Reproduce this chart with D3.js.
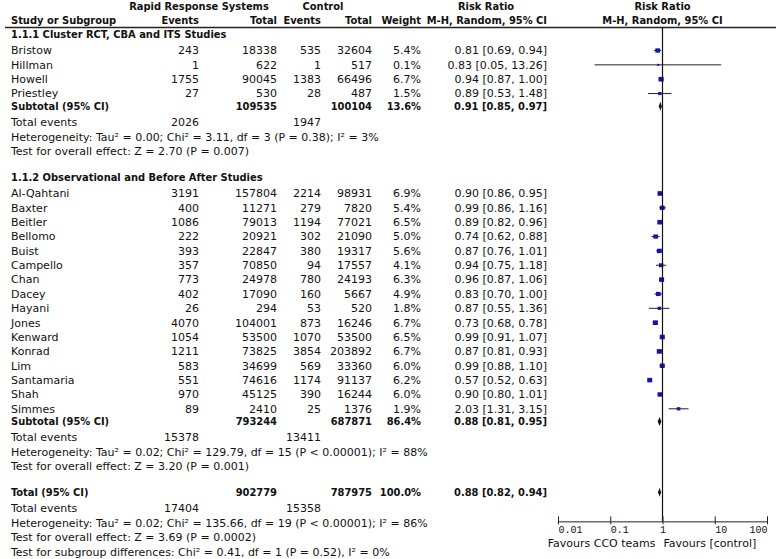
<!DOCTYPE html>
<html>
<head>
<meta charset="utf-8">
<script src="https://cdn.jsdelivr.net/npm/d3@7"></script>
<style>
  body { margin: 0; background: #fff; }
  svg text { font-family: "DejaVu Sans", sans-serif; font-size: 11px; fill: #111; }
  .b text, text.b { font-family: "DejaVu Sans Condensed", "DejaVu Sans", sans-serif; font-stretch: condensed; font-weight: bold; }
  .tick text { font-family: "Liberation Mono", monospace; font-size: 10px; }
</style>
</head>
<body>
<svg id="forest" width="778" height="559"></svg>
<script>
// ---- data ----
var studies1 = ["Bristow", "Hillman", "Howell", "Priestley"];
var rrsEvents1 = [243, 1, 1755, 27];
var rrsTotal1 = [18338, 622, 90045, 530];
var ctlEvents1 = [535, 1, 1383, 28];
var ctlTotal1 = [32604, 517, 66496, 487];
var weight1 = [5.4, 0.1, 6.7, 1.5];
var rr1 = [0.81, 0.83, 0.94, 0.89];
var lo1 = [0.69, 0.05, 0.87, 0.53];
var hi1 = [0.94, 13.26, 1.00, 1.48];

var studies2 = ["Al-Qahtani", "Baxter", "Beitler", "Bellomo", "Buist", "Campello", "Chan", "Dacey",
                "Hayani", "Jones", "Kenward", "Konrad", "Lim", "Santamaria", "Shah", "Simmes"];
var rrsEvents2 = [3191, 400, 1086, 222, 393, 357, 773, 402, 26, 4070, 1054, 1211, 583, 551, 970, 89];
var rrsTotal2 = [157804, 11271, 79013, 20921, 22847, 70850, 24978, 17090, 294, 104001, 53500, 73825, 34699, 74616, 45125, 2410];
var ctlEvents2 = [2214, 279, 1194, 302, 380, 94, 780, 160, 53, 873, 1070, 3854, 569, 1174, 390, 25];
var ctlTotal2 = [98931, 7820, 77021, 21090, 19317, 17557, 24193, 5667, 520, 16246, 53500, 203892, 33360, 91137, 16244, 1376];
var weight2 = [6.9, 5.4, 6.5, 5.0, 5.6, 4.1, 6.3, 4.9, 1.8, 6.7, 6.5, 6.7, 6.0, 6.2, 6.0, 1.9];
var rr2 = [0.90, 0.99, 0.89, 0.74, 0.87, 0.94, 0.96, 0.83, 0.87, 0.73, 0.99, 0.87, 0.99, 0.57, 0.90, 2.03];
var lo2 = [0.86, 0.86, 0.82, 0.62, 0.76, 0.75, 0.87, 0.70, 0.55, 0.68, 0.91, 0.81, 0.88, 0.52, 0.80, 1.31];
var hi2 = [0.95, 1.16, 0.96, 0.88, 1.01, 1.18, 1.06, 1.00, 1.36, 0.78, 1.07, 0.93, 1.10, 0.63, 1.01, 3.15];

var groupTitles = ["1.1.1 Cluster RCT, CBA and ITS Studies", "1.1.2 Observational and Before After Studies"];
var subTotals = [[109535, 100104], [793244, 687871]];
var subWeight = ["13.6%", "86.4%"];
var subRR = [[0.91, 0.85, 0.97], [0.88, 0.81, 0.95]];
var subEvents = [[2026, 1947], [15378, 13411]];
var subHet = ["Heterogeneity: Tau² = 0.00; Chi² = 3.11, df = 3 (P = 0.38); I² = 3%",
              "Heterogeneity: Tau² = 0.02; Chi² = 129.79, df = 15 (P < 0.00001); I² = 88%"];
var subTest = ["Test for overall effect: Z = 2.70 (P = 0.007)",
               "Test for overall effect: Z = 3.20 (P = 0.001)"];

var overallTotals = [902779, 787975];
var overallRR = [0.88, 0.82, 0.94];
var overallEvents = [17404, 15358];
var overallNotes = ["Heterogeneity: Tau² = 0.02; Chi² = 135.66, df = 19 (P < 0.00001); I² = 86%",
                    "Test for overall effect: Z = 3.69 (P = 0.0002)",
                    "Test for subgroup differences: Chi² = 0.41, df = 1 (P = 0.52), I² = 0%"];

var axisTicks = [0.01, 0.1, 1, 10, 100];
var favours = ["Favours CCO teams", "Favours [control]"];

// ---- build the row list ----
var groups = [
  {names: studies1, ev1: rrsEvents1, n1: rrsTotal1, ev2: ctlEvents1, n2: ctlTotal1, w: weight1, rr: rr1, lo: lo1, hi: hi1},
  {names: studies2, ev1: rrsEvents2, n1: rrsTotal2, ev2: ctlEvents2, n2: ctlTotal2, w: weight2, rr: rr2, lo: lo2, hi: hi2}
];

var rows = [];
var pos = 1.95;
groups.forEach(function(g, gi) {
  rows.push({type: "section", pos: pos, label: groupTitles[gi]});
  pos += 1.15;
  g.names.forEach(function(n, i) {
    rows.push({type: "study", pos: pos, label: n, c: [g.ev1[i], g.n1[i], g.ev2[i], g.n2[i]],
               w: g.w[i], rr: g.rr[i], lo: g.lo[i], hi: g.hi[i]});
    pos += 1;
  });
  pos -= 0.12;
  rows.push({type: "sub", pos: pos, label: "Subtotal (95% CI)", c: ["", subTotals[gi][0], "", subTotals[gi][1]],
             wt: subWeight[gi], rr: subRR[gi][0], lo: subRR[gi][1], hi: subRR[gi][2]});
  pos += 1.1;
  rows.push({type: "events", pos: pos, label: "Total events", c: [subEvents[gi][0], "", subEvents[gi][1], ""]});
  pos += 1.03;
  rows.push({type: "note", pos: pos, label: subHet[gi]});
  pos += 1;
  rows.push({type: "note", pos: pos, label: subTest[gi]});
  pos += 1.8;
});
rows.push({type: "sub", pos: pos, label: "Total (95% CI)", c: ["", overallTotals[0], "", overallTotals[1]],
           wt: "100.0%", rr: overallRR[0], lo: overallRR[1], hi: overallRR[2]});
pos += 1.1;
rows.push({type: "events", pos: pos, label: "Total events", c: [overallEvents[0], "", overallEvents[1], ""]});
overallNotes.forEach(function(t) {
  pos += 1.02;
  rows.push({type: "note", pos: pos, label: t});
});

// ---- scales ----
var svg = d3.select("#forest");
var y = d3.scaleLinear().domain([0, 38]).range([6, 551.5]);
var x = d3.scaleLog().domain([0.01, 100]).range([558, 767]);
var box = d3.scaleSqrt().domain([0, 7]).range([1.8, 5.2]);
var colX = [199, 277, 321, 372]; // right edges of the count columns
var weightX = 421, ciX = 547, nameX = 11;
var fmt = d3.format(".2f");

// ---- header ----
var hdr = svg.append("g").attr("class", "b");
hdr.append("text").attr("x", 199).attr("y", y(0)).attr("dy", "0.35em").attr("text-anchor", "middle").text("Rapid Response Systems");
hdr.append("text").attr("x", 323).attr("y", y(0)).attr("dy", "0.35em").attr("text-anchor", "middle").text("Control");
hdr.append("text").attr("x", 486).attr("y", y(0)).attr("dy", "0.35em").attr("text-anchor", "middle").text("Risk Ratio");
hdr.append("text").attr("x", x(1)).attr("y", y(0)).attr("dy", "0.35em").attr("text-anchor", "middle").text("Risk Ratio");
hdr.append("text").attr("x", nameX).attr("y", y(1)).attr("dy", "0.35em").text("Study or Subgroup");
["Events", "Total", "Events", "Total"].forEach(function(t, i) {
  hdr.append("text").attr("x", colX[i]).attr("y", y(1)).attr("dy", "0.35em").attr("text-anchor", "end").text(t);
});
hdr.append("text").attr("x", weightX).attr("y", y(1)).attr("dy", "0.35em").attr("text-anchor", "end").text("Weight");
hdr.append("text").attr("x", ciX).attr("y", y(1)).attr("dy", "0.35em").attr("text-anchor", "end").text("M-H, Random, 95% CI");
hdr.append("text").attr("x", x(1)).attr("y", y(1)).attr("dy", "0.35em").attr("text-anchor", "middle").text("M-H, Random, 95% CI");

svg.append("line").attr("x1", 5).attr("x2", 776).attr("y1", y(1.5)).attr("y2", y(1.5))
  .attr("stroke", "#222").attr("stroke-width", 1.5);

// ---- text rows ----
var rowG = svg.selectAll("g.row").data(rows).enter().append("g")
  .attr("class", function(d) { return "row" + (d.type === "section" || d.type === "sub" ? " b" : ""); })
  .attr("transform", function(d) { return "translate(0," + y(d.pos) + ")"; });

rowG.append("text").attr("x", nameX).attr("dy", "0.35em").text(function(d) { return d.label; });

rowG.filter(function(d) { return d.c; }).each(function(d) {
  var g = d3.select(this);
  d.c.forEach(function(v, i) {
    g.append("text").attr("x", colX[i]).attr("dy", "0.35em").attr("text-anchor", "end").text(v);
  });
});

rowG.filter(function(d) { return d.rr; }).each(function(d) {
  var g = d3.select(this);
  g.append("text").attr("x", weightX).attr("dy", "0.35em").attr("text-anchor", "end")
    .text(d.wt || d3.format(".1f")(d.w) + "%");
  g.append("text").attr("x", ciX).attr("dy", "0.35em").attr("text-anchor", "end")
    .text(fmt(d.rr) + " [" + fmt(d.lo) + ", " + fmt(d.hi) + "]");
});

// ---- plot ----
var axisY = y(35.9);
svg.append("line").attr("x1", x(1)).attr("x2", x(1)).attr("y1", y(1.5)).attr("y2", axisY)
  .attr("stroke", "#111").attr("stroke-width", 1.2);

var st = rowG.filter(function(d) { return d.type === "study"; });
st.append("line")
  .attr("x1", function(d) { return x(d.lo); })
  .attr("x2", function(d) { return x(d.hi); })
  .attr("stroke", "#222").attr("stroke-width", 1);
st.append("rect")
  .attr("x", function(d) { return x(d.rr) - box(d.w) / 2; })
  .attr("y", function(d) { return -box(d.w) * 0.45; })
  .attr("width", function(d) { return box(d.w); })
  .attr("height", function(d) { return box(d.w) * 0.9; })
  .attr("fill", "#1515a5");

rowG.filter(function(d) { return d.type === "sub"; }).append("path")
  .attr("d", function(d) {
    return "M" + x(d.lo) + ",0L" + x(d.rr) + ",-4.5L" + x(d.hi) + ",0L" + x(d.rr) + ",4.5Z";
  })
  .attr("fill", "#111");

// ---- axis ----
var ax = svg.append("g").attr("transform", "translate(0," + axisY + ")")
  .call(d3.axisBottom(x).tickValues(axisTicks).tickFormat(function(d) { return String(d); }).tickSizeInner(4).tickSizeOuter(0));
ax.select(".domain").attr("stroke", "#222");
ax.selectAll(".tick line").attr("y1", -5).attr("y2", 3).attr("stroke", "#222");
ax.selectAll(".tick text").attr("y", 5)
  .attr("text-anchor", function(d) { return d === 1 ? "middle" : d === 100 ? "end" : "start"; })
  .attr("fill", "#111");
svg.append("text").attr("x", x(1) - 7).attr("y", axisY + 26).attr("text-anchor", "end").text(favours[0]);
svg.append("text").attr("x", x(1) + 1).attr("y", axisY + 26).text(favours[1]);
</script>
</body>
</html>
